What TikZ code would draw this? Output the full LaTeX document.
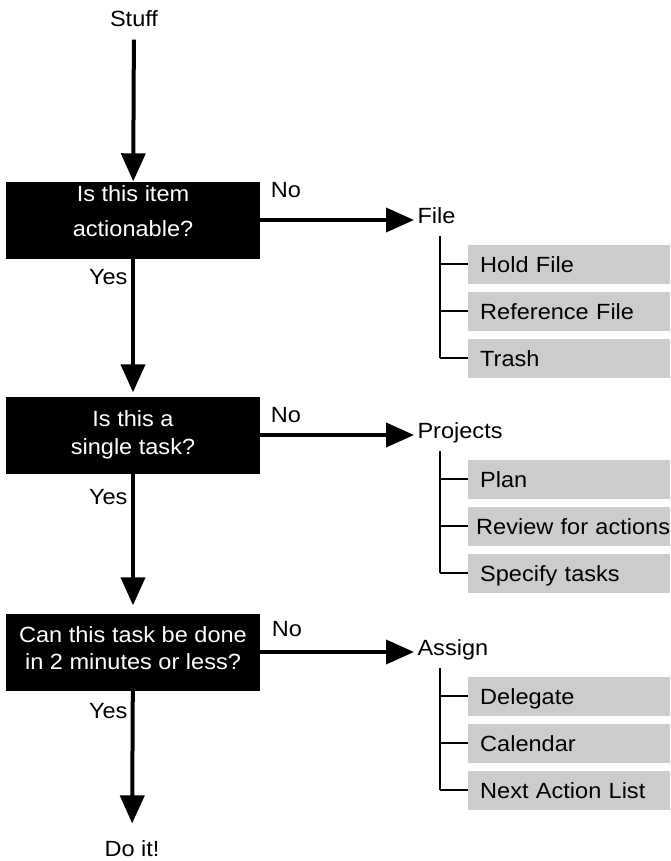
\documentclass[tikz,border=0pt]{standalone}
\usepackage{fontspec}
\setmainfont{Liberation Sans}[FakeStretch=1.07]
\usetikzlibrary{arrows.meta}

\begin{document}
\begin{tikzpicture}[x=1pt,y=-1pt,>={Triangle[width=24pt,length=28pt]},
  every node/.style={font=\fontsize{22}{27}\selectfont},
  question/.style={fill=black,text=white,align=center,minimum width=254pt,minimum height=77pt,inner sep=0pt},
  flow/.style={->,line width=4pt},
  result/.style={anchor=west,text height=16pt,text depth=10pt},
  option/.style={fill=black!20,anchor=west,minimum width=202pt,minimum height=39pt,text width=178pt,
    inner xsep=12pt,inner ysep=0pt,align=left,text height=16pt,text depth=0pt},
  trunk/.style={line width=2.4pt},
  twig/.style={line width=1.4pt}]
  \useasboundingbox (0,0) rectangle (670,861);

  % main line
  \node (stuff) at (134,19) {Stuff};
  \node[question,text depth=18pt] (q1) at (133,220) {Is this item\\[8pt]actionable?};
  \node[question] (q2) at (133,435) {Is this a\\[1pt]single task?};
  \node[question,text depth=8pt] (q3) at (133,652) {Can this task be done\\in 2 minutes or less?};
  \node (doit) at (132,849) {Do it!};
  \draw[flow,shorten <=9pt] (stuff) -- (q1);
  \draw[flow,shorten >=4pt] (q1) -- (q2);
  \draw[flow,shorten >=8pt] (q2) -- (q3);
  \draw[flow,shorten >=14pt] (q3) -- (doit);
  \node[anchor=east] (yes1) at (131,277) {Yes};
  \node[anchor=east] (yes2) at (131,497) {Yes};
  \node[anchor=east] (yes3) at (131,711) {Yes};

  % file
  \node[result] (file) at (414,220) {File};
  \draw[flow] (q1) -- (file);
  \node (no1) at (286,190) {No};
  \node[option] (file1) at (468,264) {Hold File};
  \node[option] (file2) at (468,311) {Reference File};
  \node[option] (file3) at (468,358) {Trash};
  \coordinate (filetop) at (440,236);
  \draw[trunk] (filetop) -- (filetop |- file3.west);
  \draw[twig] (filetop |- file1.west) -- (file1.west) (filetop |- file2.west) -- (file2.west)
    (filetop |- file3.west) -- (file3.west);

  % projects
  \node[result] (proj) at (414,435) {Projects};
  \draw[flow] (q2) -- (proj);
  \node (no2) at (286,415) {No};
  \node[option] (proj1) at (468,479) {Plan};
  \node[option,inner xsep=8pt,text width=186pt] (proj2) at (468,526) {\mbox{Review for actions}};
  \node[option] (proj3) at (468,573) {Specify tasks};
  \coordinate (projtop) at (440,451);
  \draw[trunk] (projtop) -- (projtop |- proj3.west);
  \draw[twig] (projtop |- proj1.west) -- (proj1.west) (projtop |- proj2.west) -- (proj2.west)
    (projtop |- proj3.west) -- (proj3.west);

  % assign
  \node[result] (assign) at (414,652) {Assign};
  \draw[flow] (q3) -- (assign);
  \node (no3) at (287,629) {No};
  \node[option] (assign1) at (468,696) {Delegate};
  \node[option] (assign2) at (468,743) {Calendar};
  \node[option] (assign3) at (468,790) {Next Action List};
  \coordinate (assigntop) at (440,668);
  \draw[trunk] (assigntop) -- (assigntop |- assign3.west);
  \draw[twig] (assigntop |- assign1.west) -- (assign1.west) (assigntop |- assign2.west) -- (assign2.west)
    (assigntop |- assign3.west) -- (assign3.west);
\end{tikzpicture}
\end{document}
